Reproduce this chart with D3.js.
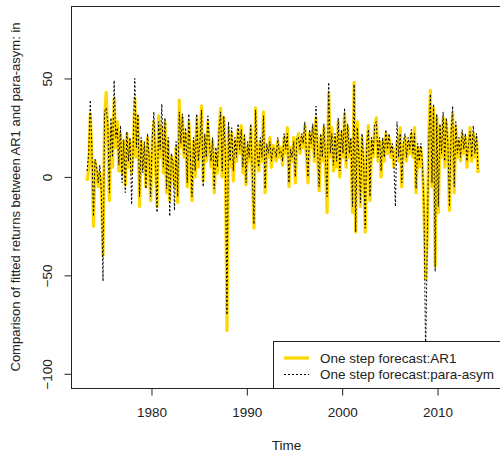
<!DOCTYPE html>
<html><head><meta charset="utf-8">
<script src="https://cdn.jsdelivr.net/npm/d3@7"></script>
<style>body{margin:0;background:#fff}svg{display:block;font-family:"Liberation Sans",Arial,sans-serif}</style>
</head><body><svg id="c" width="500" height="459"></svg>
<script>
const startYear = 1973.25;
const step = 1/6;
const ar1 = [
-2,5,32,10,-25,8,
3,-5,2,-3,-40,30,
43,20,-12,25,5,40,
15,28,3,22,2,18,
-4,22,5,18,2,12,
40,10,30,-15,18,5,
15,-5,20,8,-12,18,
28,5,-15,31,10,25,
2,28,-8,18,-12,10,
6,-5,15,-13,39,15,
30,10,22,-5,28,8,
-12,18,0,30,5,15,
36,-2,20,8,28,14,
5,18,-8,12,2,22,
35,0,30,10,-78,25,
5,22,-2,18,8,24,
12,26,2,20,-4,15,
8,25,-2,-26,35,10,
3,18,8,33,-8,15,
10,20,5,16,12,8,
18,10,15,6,20,12,
25,-5,15,8,20,-3,
18,22,12,20,15,26,
10,-3,22,15,25,8,
30,12,-7,20,8,25,
5,-18,43,10,25,3,
20,5,28,0,22,10,
32,5,25,10,18,-18,
48,-28,28,10,-15,20,
5,-28,15,26,-12,18,
10,25,30,8,18,0,
18,8,22,12,20,10,
15,5,12,18,8,25,
-5,15,20,8,18,12,
22,10,25,-8,15,5,
15,5,-18,-52,-30,20,
44,-5,35,-45,30,-18,
25,10,30,5,28,15,
-17,20,32,-8,25,10,
18,8,22,12,20,5,
15,25,8,22,10,20,
2];
const paraAsym = [
3,12,39,14,-20,9,
5,-3,6,-8,-53,33,
35,28,-8,30,10,49,
20,25,6,26,-3,19,
-8,23,8,20,-14,16,
50,15,32,-10,20,2,
18,-6,22,10,-10,20,
33,8,-18,28,14,37,
5,30,-6,20,-20,12,
8,-17,18,-10,33,17,
32,12,25,-3,32,10,
-10,20,3,32,8,18,
34,-5,22,10,31,16,
8,20,-6,15,5,24,
33,3,31,12,-70,28,
8,25,3,20,10,27,
14,24,5,22,-3,18,
10,27,0,-24,34,12,
5,20,10,31,-6,17,
12,18,8,15,14,10,
20,12,13,8,22,14,
22,-3,14,10,18,0,
20,20,14,22,17,28,
12,0,24,17,27,10,
36,14,-5,22,10,27,
8,-10,48,12,22,6,
22,8,30,3,24,12,
35,8,27,12,20,-15,
47,-28,25,12,-13,22,
8,-26,17,24,-10,20,
12,27,28,10,20,3,
20,10,24,14,22,12,
17,7,-15,28,10,22,
-3,17,22,10,20,14,
24,12,22,-6,17,8,
17,7,-15,-92,-35,18,
42,-3,37,-48,32,-15,
27,12,33,8,30,17,
-15,22,36,-5,28,12,
20,10,24,14,22,8,
17,23,10,26,12,22,
4];
const xTicks = [1980, 1990, 2000, 2010];
const yTicks = [-100, -50, 0, 50];
const seriesNames = ["One step forecast:AR1", "One step forecast:para-asym"];
const yLabel = "Comparison of fitted returns between AR1 and para-asym: in";
const xLabel = "Time";

const FONT = '"Liberation Sans",Arial,sans-serif';
const svg = d3.select("#c");
const L = 71, R = 502, T = 6, B = 388;
const x = d3.scaleLinear().domain([1971.56, 2016.76]).range([L, R]);
const y = d3.scaleLinear().domain([-107.2, 86.8]).range([B, T]);
const t = i => startYear + i * step;

svg.append("clipPath").attr("id","pc").append("rect")
  .attr("x", L).attr("y", T).attr("width", R-L).attr("height", B-T);
const g = svg.append("g").attr("clip-path","url(#pc)");
const line = d3.line().x((d,i)=>x(t(i))).y(d=>y(d));
g.append("path").datum(ar1).attr("d", line).attr("fill","none")
  .attr("stroke","#FFD700").attr("stroke-width",3.2).attr("stroke-linejoin","round");
g.append("path").datum(paraAsym).attr("d", line).attr("fill","none")
  .attr("stroke","#000").attr("stroke-width",1).attr("stroke-dasharray","2,2");

svg.append("rect").attr("x",L+0.5).attr("y",T+0.5).attr("width",R-L).attr("height",B-T)
  .attr("fill","none").attr("stroke","#222").attr("stroke-width",1);

const xa = svg.append("g").attr("transform",`translate(0,${B+0.5})`)
  .call(d3.axisBottom(x).tickValues(xTicks).tickFormat(d3.format("d")).tickSize(7).tickPadding(12));
xa.select(".domain").remove();
xa.selectAll("line").attr("stroke","#222");
xa.selectAll("text").attr("font-size",13.5).attr("fill","#222").attr("font-family",FONT);

const ya = svg.append("g").attr("transform",`translate(${L+0.5},0)`)
  .call(d3.axisLeft(y).tickValues(yTicks).tickSize(7).tickFormat(d3.format("d")));
ya.select(".domain").remove();
ya.selectAll("line").attr("stroke","#222");
ya.selectAll("text").attr("font-size",13.5).attr("fill","#222").attr("font-family",FONT)
  .attr("text-anchor","middle").attr("x",null).attr("dy",null)
  .attr("transform","translate(-24,0) rotate(-90)").attr("dominant-baseline","central");

svg.append("text").attr("x",(L+R)/2).attr("y",450).attr("text-anchor","middle")
  .attr("font-size",13.5).attr("fill","#222").text(xLabel);
svg.append("text").attr("transform",`translate(20,${(T+B)/2}) rotate(-90)`)
  .attr("text-anchor","middle").attr("font-size",13).attr("fill","#222").text(yLabel);

const lg = svg.append("g");
lg.append("rect").attr("x",273.5).attr("y",341.5).attr("width",240).attr("height",B-341)
  .attr("fill","#fff").attr("stroke","#222").attr("stroke-width",1);
lg.append("line").attr("x1",284).attr("x2",309).attr("y1",358).attr("y2",358)
  .attr("stroke","#FFD700").attr("stroke-width",3.2);
lg.append("line").attr("x1",284).attr("x2",309).attr("y1",374.5).attr("y2",374.5)
  .attr("stroke","#000").attr("stroke-width",1).attr("stroke-dasharray","2,2");
lg.selectAll("text.lt").data(seriesNames).join("text").attr("class","lt")
  .attr("x",320).attr("y",(d,i)=>358+i*16.5).attr("dominant-baseline","central")
  .attr("font-size",13.5).attr("fill","#222").text(d=>d);
</script></body></html>
